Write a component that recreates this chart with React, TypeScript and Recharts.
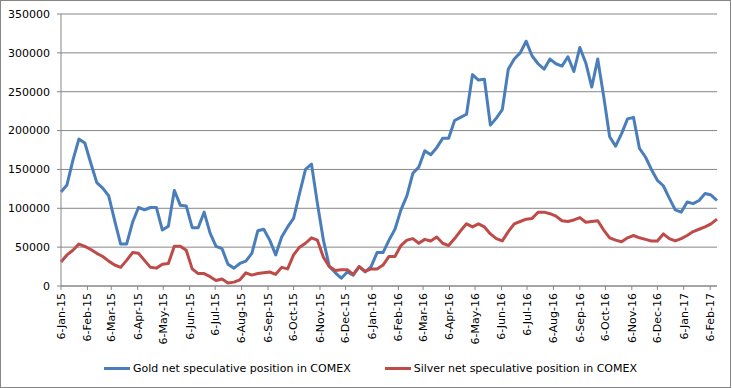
import { LineChart, Line, XAxis, YAxis, CartesianGrid, Legend } from "recharts";

document.body.style.margin = "0";

const FONT = "DejaVu Sans";
const GOLD = "#4A7EBB";
const SILVER = "#BE4B48";
const GRID = "#868686";

// weekly COMEX data, first report 6-Jan-15
const START = Date.UTC(2015, 0, 6);
const DAY = 86400000;

const gold = [
  121000, 130000, 162000, 189000, 184000, 158000, 133000, 126000, 116000, 84000,
  54000, 54000, 82000, 101000, 98000, 101000, 101000, 72000, 77000, 123000,
  104000, 103000, 75000, 75000, 95000, 68000, 51000, 48000, 28000, 23000,
  29000, 32000, 42000, 71000, 73000, 59000, 40000, 63000, 76000, 87000,
  119000, 150000, 157000, 106000, 59000, 25000, 17000, 10000, 18000, 14000,
  25000, 18000, 25000, 43000, 43000, 59000, 73000, 98000, 116000, 145000,
  153000, 174000, 169000, 178000, 190000, 190000, 213000, 217000, 221000, 272000,
  265000, 266000, 207000, 216000, 227000, 279000, 292000, 300000, 315000, 296000,
  286000, 279000, 292000, 286000, 283000, 295000, 276000, 307000, 287000, 256000,
  292000, 244000, 192000, 180000, 196000, 215000, 217000, 177000, 166000, 150000,
  136000, 129000, 113000, 98000, 95000, 108000, 106000, 110000, 119000, 117000, 110000,
];

const silver = [
  31000, 40000, 46000, 54000, 51000, 47000, 42000, 38000, 32000, 27000,
  24000, 33000, 43000, 42000, 33000, 24000, 23000, 28000, 29000, 51000,
  51000, 46000, 22000, 16000, 16000, 12000, 7000, 9000, 4000, 5000,
  8000, 17000, 14000, 16000, 17000, 18000, 15000, 24000, 22000, 40000,
  50000, 55000, 62000, 59000, 37000, 25000, 20000, 21000, 21000, 15000,
  25000, 19000, 22000, 22000, 27000, 38000, 38000, 52000, 59000, 61000,
  55000, 60000, 58000, 63000, 55000, 52000, 61000, 71000, 80000, 76000,
  80000, 76000, 67000, 61000, 58000, 70000, 80000, 83000, 86000, 87000,
  95000, 95000, 93000, 90000, 84000, 83000, 85000, 88000, 82000, 83000,
  84000, 72000, 62000, 59000, 57000, 62000, 65000, 62000, 60000, 58000,
  58000, 67000, 61000, 58000, 61000, 65000, 70000, 73000, 76000, 80000, 86000,
];

const tickLabels = [
  "6-Jan-15", "6-Feb-15", "6-Mar-15", "6-Apr-15", "6-May-15", "6-Jun-15",
  "6-Jul-15", "6-Aug-15", "6-Sep-15", "6-Oct-15", "6-Nov-15", "6-Dec-15",
  "6-Jan-16", "6-Feb-16", "6-Mar-16", "6-Apr-16", "6-May-16", "6-Jun-16",
  "6-Jul-16", "6-Aug-16", "6-Sep-16", "6-Oct-16", "6-Nov-16", "6-Dec-16",
  "6-Jan-17", "6-Feb-17",
];

const yTicks = [0, 50000, 100000, 150000, 200000, 250000, 300000, 350000];

const MONTHS = ["Jan", "Feb", "Mar", "Apr", "May", "Jun", "Jul", "Aug", "Sep", "Oct", "Nov", "Dec"];

const tickDays = tickLabels.map((label) => {
  const [d, m, y] = label.split("-");
  return (Date.UTC(2000 + Number(y), MONTHS.indexOf(m), Number(d)) - START) / DAY;
});

const data = gold.map((g, i) => ({ day: i * 7, gold: g, silver: silver[i] }));
const lastDay = (gold.length - 1) * 7;

const DateTick = (props: any) => {
  const { x, y, payload } = props;
  const label = tickLabels[tickDays.indexOf(payload.value)];
  return (
    <g transform={`translate(${x},${y})`}>
      <text textAnchor="end" transform="rotate(-90)" dy="0.35em" fontSize={11} fontFamily={FONT} fill="#000">
        {label}
      </text>
    </g>
  );
};

const LegendContent = (props: any) => {
  const items = props.payload || [];
  return (
    <div
      style={{
        display: "flex",
        alignItems: "center",
        height: 16,
        paddingLeft: 104,
        gap: 34,
        fontFamily: FONT,
        fontSize: 11,
        color: "#000",
      }}
    >
      {items.map((it: any) => (
        <div key={it.value} style={{ display: "flex", alignItems: "center", whiteSpace: "nowrap" }}>
          <span style={{ display: "inline-block", width: 26, height: 3, background: it.color, marginRight: 3 }} />
          <span>{it.value}</span>
        </div>
      ))}
    </div>
  );
};

export default function App() {
  return (
    <div style={{ position: "relative", width: 732, height: 388, background: "#fff" }}>
      <LineChart
        width={732}
        height={388}
        data={data}
        margin={{ top: 14, right: 15, bottom: 12, left: 0 }}
        style={{ fontFamily: FONT }}
      >
        <CartesianGrid vertical={false} stroke={GRID} />
        <XAxis
          dataKey="day"
          type="number"
          domain={[0, lastDay]}
          ticks={tickDays}
          interval={0}
          height={74}
          tick={<DateTick />}
          tickSize={4}
          tickMargin={3}
          axisLine={{ stroke: GRID }}
          tickLine={{ stroke: GRID }}
        />
        <YAxis
          domain={[0, 350000]}
          ticks={yTicks}
          width={61}
          tickSize={4}
          tickMargin={7}
          tick={{ fontSize: 11, fontFamily: FONT, fill: "#000" }}
          axisLine={{ stroke: GRID }}
          tickLine={{ stroke: GRID }}
        />
        <Legend
          verticalAlign="bottom"
          content={<LegendContent />}
          wrapperStyle={{ left: 0, width: 732 }}
        />
        <Line
          type="linear"
          dataKey="gold"
          name="Gold net speculative position in COMEX"
          stroke={GOLD}
          strokeWidth={3}
          strokeLinejoin="round"
          dot={false}
          activeDot={false}
          isAnimationActive={false}
        />
        <Line
          type="linear"
          dataKey="silver"
          name="Silver net speculative position in COMEX"
          stroke={SILVER}
          strokeWidth={3}
          strokeLinejoin="round"
          dot={false}
          activeDot={false}
          isAnimationActive={false}
        />
      </LineChart>
      <div
        style={{
          position: "absolute",
          left: 0,
          top: 0,
          width: 731,
          height: 388,
          border: `1px solid ${GRID}`,
          boxSizing: "border-box",
          pointerEvents: "none",
        }}
      />
    </div>
  );
}
